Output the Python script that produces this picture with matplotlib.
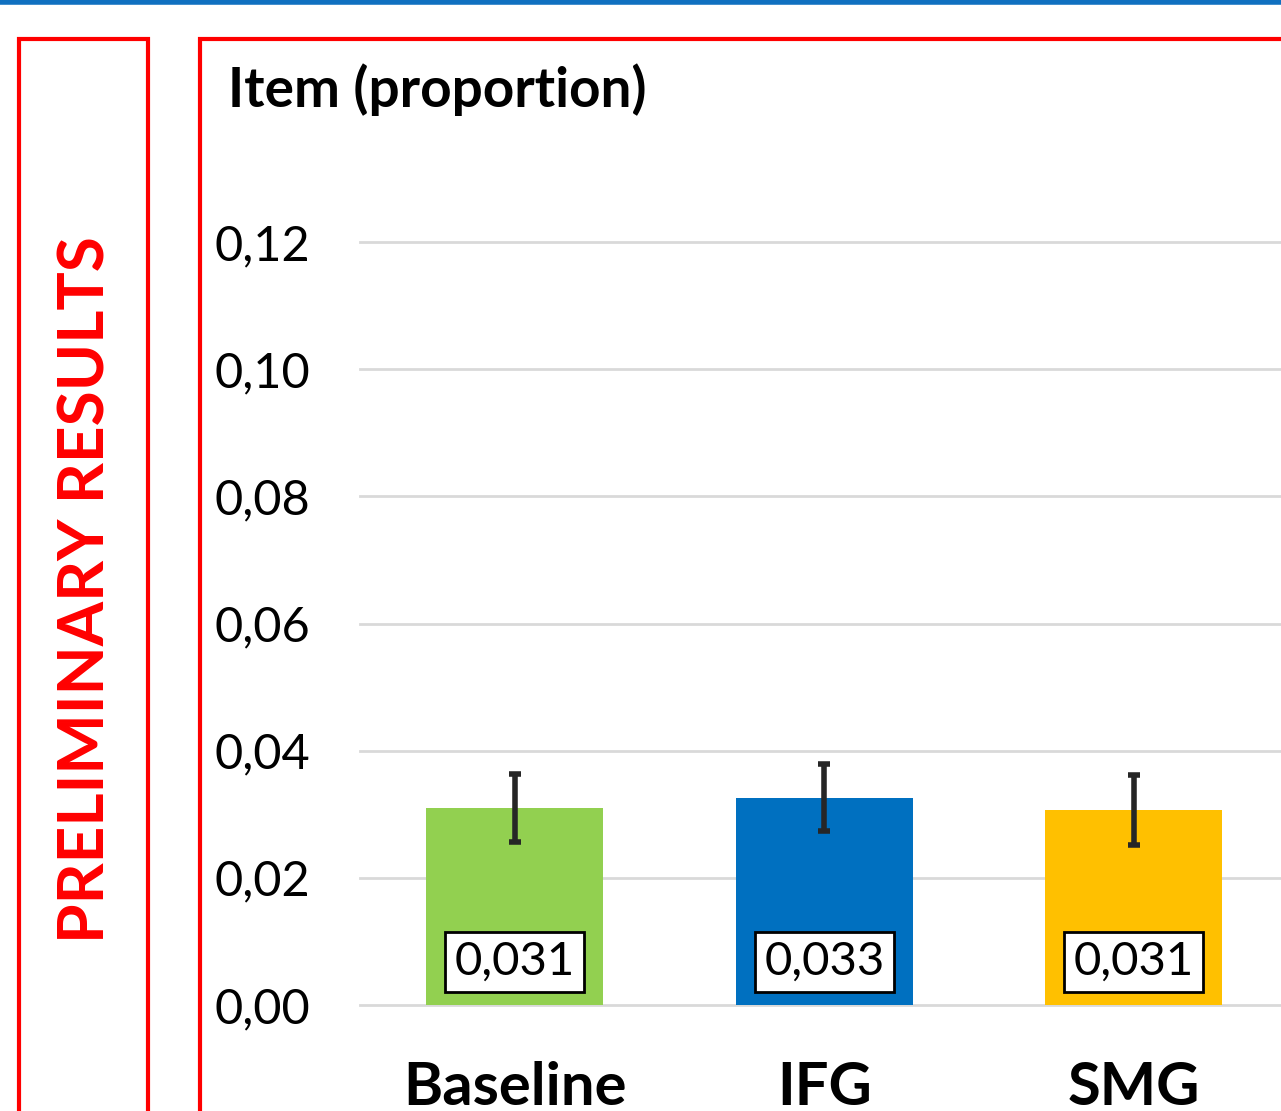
import matplotlib
matplotlib.use("Agg")
import matplotlib.pyplot as plt
from matplotlib.patches import Rectangle
from matplotlib.lines import Line2D

categories = ["Baseline", "IFG", "SMG"]
values = [0.031, 0.0326, 0.0307]
errors = [0.0054, 0.0053, 0.0055]
labels = ["0,031", "0,033", "0,031"]
colors = ["#92D050", "#0070C0", "#FFC000"]
yticks = [0.00, 0.02, 0.04, 0.06, 0.08, 0.10, 0.12]
ytick_labels = ["0,00", "0,02", "0,04", "0,06", "0,08", "0,10", "0,12"]

FONT = "Lato"
W, H = 1281, 1111
fig = plt.figure(figsize=(W / 100, H / 100), dpi=100)

def fx(px):
    return px / W

def fy(py):
    return 1 - py / H

# top blue line
fig.add_artist(Line2D([0, 1], [fy(2), fy(2)], color="#1070C0", lw=4, transform=fig.transFigure))
# red boxes
red = "#FF0000"
fig.add_artist(Rectangle((fx(19), fy(1120)), fx(148) - fx(19), fy(39) - fy(1120),
                         fill=False, edgecolor=red, lw=3, transform=fig.transFigure))
fig.add_artist(Rectangle((fx(200), fy(1120)), fx(1300) - fx(200), fy(39) - fy(1120),
                         fill=False, edgecolor=red, lw=3, transform=fig.transFigure))

fig.text(fx(86), fy(590), "PRELIMINARY RESULTS", rotation=90, color=red,
         fontsize=46, fontweight="bold", family=FONT, ha="center", va="center")
fig.text(fx(228), fy(107), "Item (proportion)", fontsize=39.5, fontweight="bold",
         family=FONT, ha="left", va="baseline")

ax = fig.add_axes([fx(360), fy(1005), (309.5 * 3) / W, fy(242) - fy(1005)])
x = list(range(len(categories)))
ax.bar(x, values, width=0.572, color=colors, zorder=2)
ax.errorbar(x, values, yerr=errors, fmt="none", ecolor="#262626", elinewidth=4,
            capsize=4.5, capthick=4, zorder=3)
for i, lab in enumerate(labels):
    ax.annotate(lab, xy=(i, 0), xytext=(0, 31), textcoords="offset points",
                ha="center", va="center", fontsize=34, family=FONT,
                bbox=dict(boxstyle="square,pad=0.2", fc="white", ec="black", lw=2),
                zorder=4)
ax.set_xlim(-0.5, 2.5)
ax.set_ylim(0, 0.12)
ax.set_yticks(yticks)
ax.set_yticklabels(ytick_labels, fontsize=35, family=FONT)
ax.set_xticks(x)
ax.set_xticklabels(categories, fontsize=43, fontweight="bold", family=FONT)
ax.tick_params(axis="y", length=0, pad=36)
ax.tick_params(axis="x", length=0, pad=40)
ax.grid(axis="y", color="#D9D9D9", lw=2, zorder=0)
for ln in ax.get_ygridlines():
    ln.set_clip_on(False)
for s in ax.spines.values():
    s.set_visible(False)

fig.savefig("out.png", dpi=100)
